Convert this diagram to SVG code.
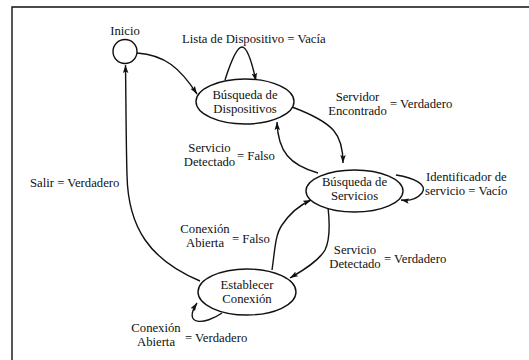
<svg xmlns="http://www.w3.org/2000/svg" width="529" height="360" viewBox="0 0 529 360">
<style>
text{font-family:"Liberation Serif","DejaVu Serif","Times New Roman",serif;font-size:12.7px;fill:#111}
.c{text-anchor:middle}
.node{fill:#fff;stroke:#111;stroke-width:1.4}
.edge{fill:none;stroke:#111;stroke-width:1.4;marker-end:url(#ah)}
</style>
<defs>
<marker id="ah" markerUnits="userSpaceOnUse" markerWidth="10" markerHeight="7" refX="8" refY="2.75" orient="auto">
<path d="M0,0 L8,2.75 L0,5.5 L1.5,2.75 z" fill="#111"/>
</marker>
</defs>
<rect width="529" height="360" fill="#fff"/>
<path d="M12,361 V7 H530" fill="none" stroke="#111" stroke-width="1.4"/>
<g id="connectors">
<path class="edge" d="M137,53 C165,55 180,68 197,94"/>
<path class="edge" d="M225,80 C232,58 238,47 242,47 C246,47 251,58 256,81"/>
<path class="edge" d="M292,107 C335,123 343,135 343,163"/>
<path class="edge" d="M318,173 C290,165 278,152 277,122"/>
<path class="edge" d="M396,175 C415,178 428,185 422,193 C416,200 408,201 401,200"/>
<path class="edge" d="M328,207 C330,225 330,240 325,250 C318,262 300,272 290,278"/>
<path class="edge" d="M272,270 C275,250 275,235 282,225 C290,213 300,205 311,200"/>
<path class="edge" d="M200,281 C150,260 128,228 127,175 C126,140 126,100 125.5,65"/>
<path class="edge" d="M222,313 C205,325 182,326 197,303"/>
</g>
<g id="labels">
<text x="182" y="43">Lista de Dispositivo = Vacía</text>
<text class="c" x="357.5" y="101">Servidor</text>
<text class="c" x="357.5" y="115">Encontrado</text>
<text x="390" y="108">= Verdadero</text>
<text class="c" x="209.5" y="152">Servicio</text>
<text class="c" x="209.5" y="166">Detectado</text>
<text x="237" y="160">= Falso</text>
<text x="426" y="181">Identificador de</text>
<text x="425" y="195">servicio = Vacío</text>
<text x="30" y="187">Salir = Verdadero</text>
<text class="c" x="205" y="233">Conexión</text>
<text class="c" x="205" y="247">Abierta</text>
<text x="232" y="243">= Falso</text>
<text class="c" x="355" y="254">Servicio</text>
<text class="c" x="355" y="268">Detectado</text>
<text x="384" y="263">= Verdadero</text>
<text class="c" x="156" y="332">Conexión</text>
<text class="c" x="156" y="346">Abierta</text>
<text x="185" y="342">= Verdadero</text>
</g>
<g id="inicio">
<circle class="node" cx="125" cy="51.5" r="12"/>
<text class="c" x="125" y="35">Inicio</text>
</g>
<g id="busqueda-dispositivos">
<ellipse class="node" cx="245" cy="101.5" rx="49" ry="22.5"/>
<text class="c" x="245" y="99">Búsqueda de</text>
<text class="c" x="245" y="113">Dispositivos</text>
</g>
<g id="busqueda-servicios">
<ellipse class="node" cx="354.5" cy="191" rx="48.5" ry="21"/>
<text class="c" x="354.5" y="186">Búsqueda de</text>
<text class="c" x="354.5" y="200">Servicios</text>
</g>
<g id="establecer-conexion">
<ellipse class="node" cx="247" cy="292" rx="49" ry="23"/>
<text class="c" x="247" y="289">Establecer</text>
<text class="c" x="247" y="303">Conexión</text>
</g>
</svg>
